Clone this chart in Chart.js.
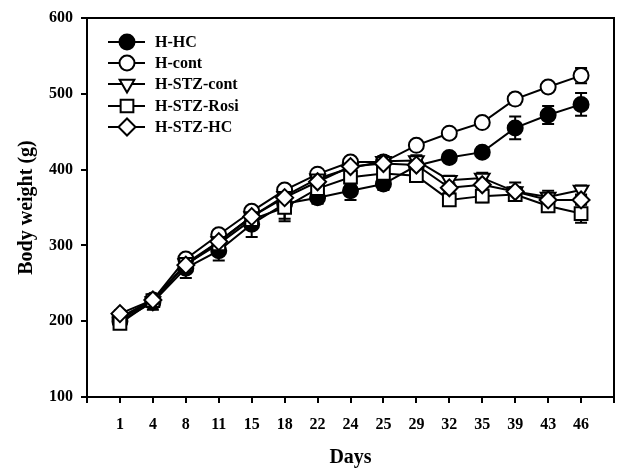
<!DOCTYPE html>
<html>
<head>
<meta charset="utf-8">
<script src="https://cdn.jsdelivr.net/npm/chart.js@4.4.0/dist/chart.umd.min.js"></script>
<style>
  html, body { margin: 0; padding: 0; background: #fff; }
  #wrap { width: 621px; height: 468px; }
</style>
</head>
<body>
<div id="wrap"><canvas id="myChart" width="621" height="468"></canvas></div>
<script>
// days on the x axis (equally spaced categories)
var days = ['1', '4', '8', '11', '15', '18', '22', '24', '25', '29', '32', '35', '39', '43', '46'];

// mean body weight (g) per group
var hHC      = [200, 225, 270, 293, 328, 355, 363, 372, 381, 405, 416, 423, 455, 472, 486];
var hCont    = [205, 228, 282, 314, 345, 373, 394, 410, 410, 432, 448, 462, 493, 509, 524];
var hStzCont = [203, 226, 276, 305, 338, 365, 388, 402, 411, 412, 386, 389, 371, 364, 373];
var hStzRosi = [197, 227, 275, 302, 334, 350, 375, 390, 395, 392, 360, 365, 367, 352, 342];
var hStzHC   = [210, 228, 274, 305, 338, 363, 384, 404, 408, 406, 376, 380, 371, 360, 360];

// error bars (SE)
var hHCErr      = [5, 10, 13, 13, 17, 20, 8, 12, 8, 8, 6, 6, 15, 12, 15];
var hContErr    = [4, 5, 4, 4, 4, 4, 4, 4, 5, 5, 5, 5, 7, 5, 10];
var hStzContErr = [4, 6, 6, 6, 6, 6, 5, 6, 7, 7, 6, 7, 12, 8, 6];
var hStzRosiErr = [6, 6, 6, 6, 8, 18, 8, 10, 8, 8, 8, 8, 8, 8, 12];
var hStzHCErr   = [4, 5, 5, 5, 5, 6, 5, 5, 6, 6, 6, 6, 6, 6, 6];

var yTicks = [100, 200, 300, 400, 500, 600];

var FONT = "'Liberation Serif', 'Times New Roman', serif";

function pts(vals) {
    return vals.map(function (v, i) { return { x: i + 1, y: v }; });
}

function ds(label, vals, errs, style, fill, radius, order, rot) {
    return {
        label: label,
        data: pts(vals),
        errors: errs,
        borderColor: '#000',
        borderWidth: 2,
        backgroundColor: fill,
        pointStyle: style,
        pointRadius: radius,
        pointHoverRadius: radius,
        pointBorderWidth: 2,
        pointBackgroundColor: fill,
        pointBorderColor: '#000',
        pointRotation: rot || 0,
        tension: 0,
        order: order
    };
}

// error bars under the markers
var errorBars = {
    id: 'errorBars',
    beforeDatasetsDraw: function (chart) {
        var c = chart.ctx;
        var yScale = chart.scales.y;
        c.save();
        c.strokeStyle = '#000';
        c.lineWidth = 2;
        chart.data.datasets.forEach(function (d, di) {
            var meta = chart.getDatasetMeta(di);
            meta.data.forEach(function (p, i) {
                var v = d.data[i].y, e = d.errors[i];
                var top = yScale.getPixelForValue(v + e);
                var bot = yScale.getPixelForValue(v - e);
                c.beginPath();
                c.moveTo(p.x, top); c.lineTo(p.x, bot);
                c.moveTo(p.x - 6, top); c.lineTo(p.x + 6, top);
                c.moveTo(p.x - 6, bot); c.lineTo(p.x + 6, bot);
                c.stroke();
            });
        });
        c.restore();
    }
};

// box round the plot + legend in the top-left corner
var frameAndLegend = {
    id: 'frameAndLegend',
    afterDraw: function (chart) {
        var c = chart.ctx, a = chart.chartArea;
        c.save();
        c.strokeStyle = '#000';
        c.lineWidth = 2;
        c.beginPath();
        c.moveTo(a.left, a.top); c.lineTo(a.right, a.top); c.lineTo(a.right, a.bottom + 6);
        c.stroke();

        var x0 = 108, x1 = 145, xm = 127, tx = 155;
        var rows = [42, 63, 84, 106, 127];
        c.font = 'bold 16px ' + FONT;
        c.textBaseline = 'middle';
        c.fillStyle = '#000';
        chart.data.datasets.forEach(function (d, i) {
            var y = rows[i];
            c.beginPath();
            c.moveTo(x0, y); c.lineTo(x1, y);
            c.stroke();
            c.fillStyle = d.pointBackgroundColor;
            c.strokeStyle = '#000';
            Chart.helpers.drawPoint(c, {
                pointStyle: d.pointStyle,
                radius: d.pointRadius,
                rotation: d.pointRotation,
                borderWidth: 2
            }, xm, y);
            c.fillStyle = '#000';
            c.fillText(d.label, tx, y + 1);
        });
        c.restore();
    }
};

var ctx = document.getElementById('myChart');
var myChart = new Chart(ctx, {
    type: 'line',
    data: {
        datasets: [
            ds('H-HC', hHC, hHCErr, 'circle', '#000', 7.5, 5),
            ds('H-cont', hCont, hContErr, 'circle', '#fff', 7.5, 4),
            ds('H-STZ-cont', hStzCont, hStzContErr, 'triangle', '#fff', 8.5, 3, 180),
            ds('H-STZ-Rosi', hStzRosi, hStzRosiErr, 'rect', '#fff', 9, 2),
            ds('H-STZ-HC', hStzHC, hStzHCErr, 'rectRot', '#fff', 8.5, 1)
        ]
    },
    options: {
        responsive: false,
        animation: false,
        layout: { autoPadding: false, padding: { top: 18, right: 7, left: 0, bottom: 0 } },
        plugins: {
            legend: { display: false },
            tooltip: { enabled: false }
        },
        scales: {
            x: {
                type: 'linear',
                min: 0,
                max: days.length + 1,
                afterBuildTicks: function (s) {
                    var t = [];
                    for (var i = 0; i <= days.length + 1; i++) t.push({ value: i });
                    s.ticks = t;
                },
                afterFit: function (s) {
                    s.height = 71;
                    s.paddingLeft = 0;
                    s.paddingRight = 0;
                },
                ticks: {
                    autoSkip: false,
                    maxRotation: 0,
                    padding: 12,
                    color: '#000',
                    font: { family: FONT, size: 16, weight: 'bold' },
                    callback: function (v) { return days[v - 1] || ''; }
                },
                grid: { drawOnChartArea: false, drawTicks: true, tickLength: 6, color: '#000', lineWidth: 2 },
                border: { color: '#000', width: 2 },
                title: {
                    display: true,
                    text: 'Days',
                    color: '#000',
                    font: { family: FONT, size: 20, weight: 'bold', lineHeight: 1 },
                    padding: { top: 0, bottom: 0 }
                }
            },
            y: {
                min: 100,
                max: 600,
                afterBuildTicks: function (s) {
                    s.ticks = yTicks.map(function (v) { return { value: v }; });
                },
                afterFit: function (s) {
                    s.width = 87;
                    s.paddingTop = 0;
                    s.paddingBottom = 0;
                },
                ticks: {
                    padding: 8,
                    color: '#000',
                    font: { family: FONT, size: 16, weight: 'bold' }
                },
                grid: { drawOnChartArea: false, drawTicks: true, tickLength: 6, color: '#000', lineWidth: 2 },
                border: { color: '#000', width: 2 },
                title: {
                    display: true,
                    text: 'Body weight (g)',
                    color: '#000',
                    font: { family: FONT, size: 20, weight: 'bold', lineHeight: 1 },
                    padding: { top: 17, bottom: 0 }
                }
            }
        }
    },
    plugins: [errorBars, frameAndLegend]
});
</script>
</body>
</html>
